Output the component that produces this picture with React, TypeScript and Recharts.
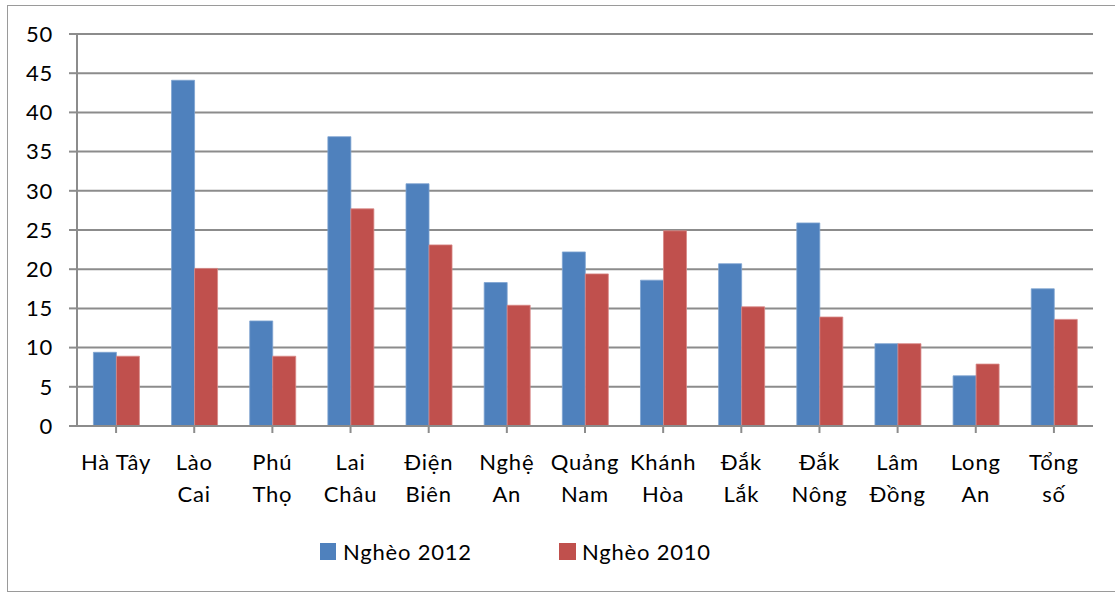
import React from "react";
import { BarChart, Bar, XAxis, YAxis, CartesianGrid } from "recharts";

const categories = [
  "Hà Tây",
  "Lào\nCai",
  "Phú\nThọ",
  "Lai\nChâu",
  "Điện\nBiên",
  "Nghệ\nAn",
  "Quảng\nNam",
  "Khánh\nHòa",
  "Đắk\nLắk",
  "Đắk\nNông",
  "Lâm\nĐồng",
  "Long\nAn",
  "Tổng\nsố",
];
const poor2012 = [9.4, 44.1, 13.4, 36.9, 30.9, 18.3, 22.2, 18.6, 20.7, 25.9, 10.5, 6.4, 17.5];
const poor2010 = [8.9, 20.1, 8.9, 27.7, 23.1, 15.4, 19.4, 24.9, 15.2, 13.9, 10.5, 7.9, 13.6];
const yTicks = [0, 5, 10, 15, 20, 25, 30, 35, 40, 45, 50];
const seriesNames = ["Nghèo 2012", "Nghèo 2010"];
const colors = ["#4F81BD", "#C0504D"];

const data = categories.map((c, i) => ({ name: c, a: poor2012[i], b: poor2010[i] }));

const FONT = "Lato, 'Noto Sans', sans-serif";

const XTick = (props: any) => {
  const { x, y, payload } = props;
  const lines = String(payload.value).split("\n");
  return (
    <text x={x} y={y} textAnchor="middle" fontSize={22} letterSpacing={0.8} fontFamily={FONT} fill="#000">
      {lines.map((l: string, i: number) => (
        <tspan key={i} x={x} dy={i === 0 ? 35 : 32}>
          {l}
        </tspan>
      ))}
    </text>
  );
};

export default function App() {
  return (
    <div style={{ position: "absolute", left: 0, top: 0, width: 1116, height: 594, background: "#fff" }}>
      <div
        style={{
          position: "absolute",
          left: 7,
          top: 5,
          width: 1108,
          height: 587,
          border: "1px solid #9a9a9a",
          borderRight: "none",
          boxSizing: "border-box",
        }}
      />
      <div style={{ position: "absolute", left: 0, top: 0 }}>
        <BarChart
          width={1116}
          height={594}
          data={data}
          margin={{ top: 34, right: 23, left: 7, bottom: 88 }}
          barCategoryGap="21%"
          barGap={0}
        >
          <CartesianGrid vertical={false} stroke="#8c8c8c" strokeWidth={2} />
          <XAxis
            dataKey="name"
            interval={0}
            height={80}
            tick={<XTick />}
            tickSize={7}
            axisLine={{ stroke: "#8c8c8c", strokeWidth: 2 }}
            tickLine={{ stroke: "#8c8c8c", strokeWidth: 2 }}
          />
          <YAxis
            width={70}
            domain={[0, 50]}
            ticks={yTicks}
            interval={0}
            tickSize={8}
            tickMargin={16}
            axisLine={{ stroke: "#8c8c8c", strokeWidth: 2 }}
            tickLine={{ stroke: "#8c8c8c", strokeWidth: 2 }}
            tick={{ fontSize: 22, fontFamily: FONT, fill: "#000", letterSpacing: 0.8 }}
          />
          <Bar dataKey="a" name={seriesNames[0]} fill={colors[0]} stroke="#7ea3d1" strokeWidth={0.8} isAnimationActive={false} />
          <Bar dataKey="b" name={seriesNames[1]} fill={colors[1]} stroke="#d88886" strokeWidth={0.8} isAnimationActive={false} />
        </BarChart>
      </div>
      <div
        style={{
          position: "absolute",
          left: 320,
          top: 538,
          display: "flex",
          alignItems: "center",
          fontFamily: FONT,
          fontSize: 22,
          letterSpacing: 0.8,
          color: "#000",
        }}
      >
        <span style={{ display: "inline-block", width: 16, height: 17, background: colors[0], marginRight: 7 }} />
        <span style={{ width: 216 }}>{seriesNames[0]}</span>
        <span style={{ display: "inline-block", width: 17, height: 17, background: colors[1], marginRight: 6 }} />
        <span>{seriesNames[1]}</span>
      </div>
    </div>
  );
}
